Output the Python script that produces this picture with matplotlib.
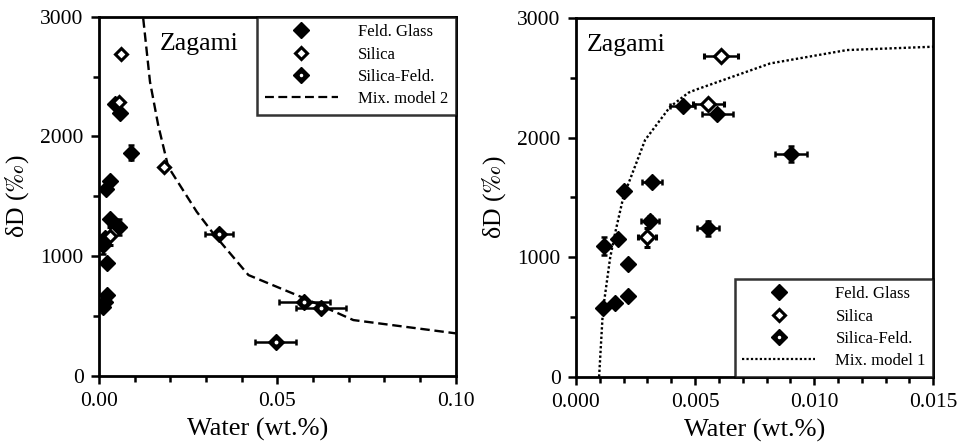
import matplotlib
matplotlib.use("Agg")
import matplotlib.pyplot as plt
from matplotlib.ticker import MultipleLocator, FormatStrFormatter
from matplotlib.legend_handler import HandlerTuple
from matplotlib.lines import Line2D

plt.rcParams['font.family'] = ['Liberation Serif', 'DejaVu Serif']
plt.rcParams['mathtext.fontset'] = 'stix'

# Feld. Glass: water (wt.%), dD (permil), x error, y error
feld_x = [0.00112, 0.00164, 0.00217, 0.00217, 0.00178, 0.00118, 0.00202,
          0.00321, 0.00311, 0.00553, 0.00902, 0.00448, 0.00594]
feld_y = [572, 614, 675, 940, 1152, 1094, 1557, 1627, 1306, 1242, 1864, 2268, 2196]
feld_xerr = [0, 0, 0, 0, 0, 0, 0, 0.00042, 0.00039, 0.00046, 0.00067, 0.00052, 0.00064]
feld_yerr = [0, 0, 0, 0, 0, 78, 0, 0, 40, 65, 63, 0, 0]

# Silica
sil_x = [0.00608, 0.00556, 0.00297, 0.0182]
sil_y = [2686, 2285, 1166, 1746]
sil_xerr = [0.0007, 0.00064, 0.00038, 0]
sil_yerr = [0, 0, 77, 0]

# Silica-Feld.
sf_x = [0.0336, 0.0576, 0.0622, 0.0495]
sf_y = [1181, 618, 563, 284]
sf_xerr = [0.0039, 0.0071, 0.0071, 0.0057]

# mixing model curves
mix2_x = [0.0124, 0.0143, 0.0166, 0.0194, 0.0274, 0.032, 0.0419, 0.0576, 0.0713, 0.1]
mix2_y = [2986, 2456, 2094, 1746, 1370, 1190, 841, 647, 465, 354]
mix1_x = [0.00097, 0.00113, 0.00143, 0.00164, 0.00199, 0.0029, 0.00395, 0.00472,
          0.005, 0.00815, 0.01137, 0.015]
mix1_y = [0, 555, 991, 1200, 1506, 1981, 2259, 2377, 2400, 2622, 2734, 2762]

fig = plt.figure(figsize=(9.6, 4.46), dpi=100)
ax1 = fig.add_axes([0.1031, 0.1576, 0.3716, 0.805])
ax2 = fig.add_axes([0.6, 0.1554, 0.3722, 0.8036])


def draw(ax, ms, xmax, mix_x, mix_y, ls, mix_label, loc, zx):
    eb = dict(ls='none', ecolor='black', elinewidth=1.8, capsize=2.5, capthick=1.8, zorder=3)
    ax.errorbar(feld_x, feld_y, xerr=feld_xerr, yerr=feld_yerr, fmt='D', ms=ms,
                mfc='black', mec='black', **eb)
    ax.errorbar(sil_x, sil_y, xerr=sil_xerr, yerr=sil_yerr, fmt='D', ms=ms * 0.8,
                mfc='white', mec='black', mew=2.2, **eb)
    ax.errorbar(sf_x, sf_y, xerr=sf_xerr, fmt='D', ms=ms,
                mfc='black', mec='black', **eb)
    ax.plot(sf_x, sf_y, 'o', ms=1.8, color='white', zorder=4)
    ax.plot(mix_x, mix_y, color='black', lw=1.7, ls=ls, zorder=2)

    ax.set_xlim(0, xmax)
    ax.set_ylim(0, 3000)
    ax.yaxis.set_major_locator(MultipleLocator(1000))
    ax.yaxis.set_minor_locator(MultipleLocator(500))
    ax.tick_params(which='both', direction='out', width=1.8, labelsize=15.5)
    ax.tick_params(which='major', length=6)
    ax.tick_params(which='minor', length=4)
    ax.tick_params(axis='x', pad=6)
    ax.tick_params(axis='y', pad=5)
    for s in ax.spines.values():
        s.set_linewidth(2)
    ax.set_xlabel('Water (wt.%)', fontsize=19, labelpad=5)
    ax.set_ylabel(r'δD ($\it{‰}$)', fontsize=18.5, labelpad=7)
    ax.text(zx, 0.925, 'Zagami', transform=ax.transAxes, fontsize=18.5, va='center')

    h_feld = Line2D([], [], ls='none', marker='D', ms=8, mfc='black', mec='black')
    h_sil = Line2D([], [], ls='none', marker='D', ms=6.2, mfc='white', mec='black', mew=2.2)
    h_sf1 = Line2D([], [], ls='none', marker='D', ms=8, mfc='black', mec='black')
    h_sf2 = Line2D([], [], ls='none', marker='o', ms=1.5, color='white')
    h_mix = Line2D([], [], color='black', lw=1.6, ls=ls)
    leg = ax.legend([h_feld, h_sil, (h_sf1, h_sf2), h_mix],
                    ['Feld. Glass', 'Silica', 'Silica-Feld.', mix_label],
                    handler_map={tuple: HandlerTuple(ndivide=1, pad=0)},
                    loc=loc, fontsize=12, frameon=True, fancybox=False,
                    handlelength=4.4, handletextpad=1.2, borderpad=0.45,
                    labelspacing=0.38, borderaxespad=0)
    leg.get_frame().set_edgecolor('black')
    leg.get_frame().set_linewidth(1.8)


draw(ax1, 8.0, 0.1, mix2_x, mix2_y, (0, (4, 2)), 'Mix. model 2', 'upper right', 0.17)
ax1.xaxis.set_major_locator(MultipleLocator(0.05))
ax1.xaxis.set_minor_locator(MultipleLocator(0.01))
ax1.xaxis.set_major_formatter(FormatStrFormatter('%.2f'))
ax1.xaxis.label.set_x(0.445)

draw(ax2, 8.5, 0.015, mix1_x, mix1_y, (0, (1, 1)), 'Mix. model 1', 'lower right', 0.03)
ax2.xaxis.set_major_locator(MultipleLocator(0.005))
ax2.xaxis.set_minor_locator(MultipleLocator(0.001))
ax2.xaxis.set_major_formatter(FormatStrFormatter('%.3f'))

fig.savefig('out.png', dpi=100)
